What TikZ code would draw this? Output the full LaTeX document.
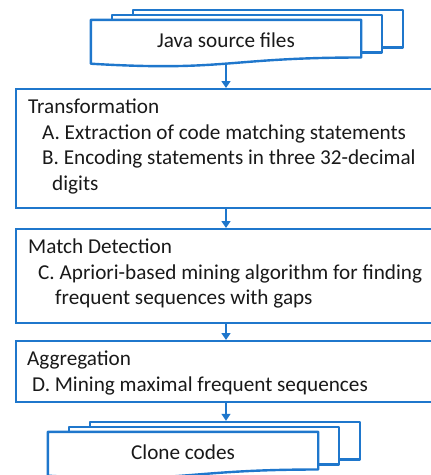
\documentclass[tikz,border=0pt]{standalone}
\usepackage{fontspec}
\setmainfont{Carlito}
\usetikzlibrary{arrows.meta,positioning,calc}
\definecolor{flowblue}{RGB}{31,119,204}
\definecolor{flowtext}{RGB}{25,25,25}
\newcommand{\stepfont}{\fontsize{21.2}{25.5}\selectfont}
\tikzset{
  stepbox/.style={
    rectangle, draw=flowblue, line width=2.4pt,
    minimum width=435pt, anchor=north west, inner sep=0pt
  },
  steptext/.style={
    anchor=north west, align=left, inner sep=0pt,
    font=\stepfont, text=flowtext
  },
  docnode/.style={
    rectangle, minimum width=270pt, minimum height=40pt,
    inner sep=0pt, font=\stepfont, text=flowtext
  },
  docline/.style={draw=flowblue, line width=2.4pt, line join=round},
  arrow/.style={-{Triangle[length=7pt,width=9pt]}, line width=1.4pt,
    draw=flowblue, fill=flowblue}
}
% stack of three documents round a docnode
\newcommand{\docstack}[1]{%
  \draw[docline] (#1.north west) -- (#1.north east) -- ++(0,37.7)
    .. controls ($(#1.north)+(0,37.7)$) and ($(#1.north)+(0,52)$)
    .. ($(#1.north west)+(0,43.9)$) -- cycle;
  \draw[docline] ($(#1.north east)+(0,32.7)$) -- ++(21,0)
    |- ($(#1.north west)+(21,-5)$) -- ++(0,5);
  \draw[docline] ($(#1.north east)+(21,27.7)$) -- ++(21,0)
    |- ($(#1.north west)+(42,-10)$) -- ++(0,5);
  \coordinate (#1-foot) at ($(#1.south)+(0,3.8)$);
  \coordinate (#1-top) at ($(#1.north)+(0,-11)$);
}

\begin{document}
\begin{tikzpicture}[x=1pt, y=-1pt]
\useasboundingbox (0,0) rectangle (431,475);

\node[docnode] (javafiles) at (226,40) {Java source files};
\docstack{javafiles}

\node[stepbox, minimum height=119pt] (trans) at (15,88) {};
\node[steptext, below right=11pt and 13pt of trans.north west] (transtext)
  {Transformation\\
   \hspace*{14pt}A. Extraction of code matching statements\\
   \hspace*{14pt}B. Encoding statements in three 32-decimal\\
   \hspace*{24pt}digits};

\node[stepbox, minimum height=94pt] (match) at (15,228) {};
\node[steptext, below right=11pt and 13pt of match.north west] (matchtext)
  {Match Detection\\
   \hspace*{10pt}C. Apriori-based mining algorithm for finding\\
   \hspace*{27pt}frequent sequences with gaps};

\node[stepbox, minimum height=61pt] (aggr) at (15,340) {};
\node[steptext, below right=11pt and 12pt of aggr.north west] (aggrtext)
  {Aggregation\\
   \hspace*{5pt}D. Mining maximal frequent sequences};

\node[docnode] (clone) at (183,452) {Clone codes};
\docstack{clone}

\draw[arrow] (javafiles-foot) -- (javafiles-foot |- trans.north);
\draw[arrow] (trans.south -| javafiles) -- (match.north -| javafiles);
\draw[arrow] (match.south -| javafiles) -- (aggr.north -| javafiles);
\draw[arrow] (aggr.south -| javafiles) -- (clone-top -| javafiles);
\end{tikzpicture}
\end{document}
